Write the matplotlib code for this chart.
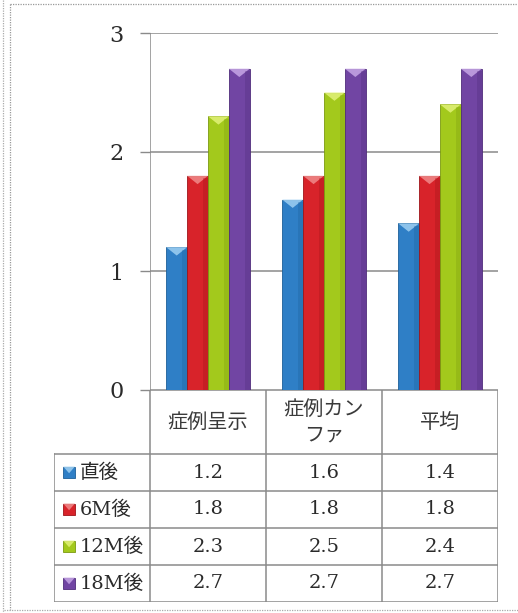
import matplotlib
matplotlib.use("Agg")
import matplotlib.pyplot as plt
from matplotlib.patches import Polygon, Rectangle
from matplotlib.lines import Line2D
import numpy as np

categories = ["症例呈示", "症例カン\nファ", "平均"]
series = ["直後", "6M後", "12M後", "18M後"]
values = [
    [1.2, 1.6, 1.4],
    [1.8, 1.8, 1.8],
    [2.3, 2.5, 2.4],
    [2.7, 2.7, 2.7],
]
yticks = [0, 1, 2, 3]

colors = ["#2f7fc6", "#d8232a", "#a3c91c", "#7145a3"]
tops = ["#9fd0f2", "#f08a8a", "#e2f27a", "#c6a6e6"]
edges = ["#1d5f99", "#9e1419", "#7a9a10", "#4f2c7a"]

jp = ["Noto Sans CJK JP", "DejaVu Sans"]
num = ["DejaVu Serif", "Noto Sans CJK JP"]
grid_c = "#8a8a8a"
txt_c = "#2a2a2a"

W, H = 518, 613
fig = plt.figure(figsize=(W / 100, H / 100), dpi=100)


def fx(px):
    return px / W


def fy(py):
    return 1 - py / H


# outer frame (scanned page border)
fig.add_artist(Line2D([fx(2.5), fx(2.5)], [fy(0), fy(613)], color="#aaaaaa", lw=0.9, ls=(0, (1, 1))))
fig.add_artist(Line2D([fx(10), fx(10)], [fy(4), fy(610)], color="#999999", lw=0.9, ls=(0, (1, 1))))
fig.add_artist(Line2D([fx(10), fx(518)], [fy(4), fy(4)], color="#999999", lw=0.9, ls=(0, (1, 1))))
fig.add_artist(Line2D([fx(4), fx(518)], [fy(610), fy(610)], color="#aaaaaa", lw=0.9, ls=(0, (1, 1))))

# chart area
ax = fig.add_axes([fx(150), fy(390), fx(498) - fx(150), fy(33) - fy(390)])
ax.set_xlim(-0.5, len(categories) - 0.5)
ax.set_ylim(0, 3)
for s in ax.spines.values():
    s.set_visible(False)
ax.set_xticks([])
ax.set_yticks(yticks)
ax.set_yticklabels([str(t) for t in yticks], family=num, fontsize=16, color=txt_c)
ax.tick_params(axis="y", length=7, color=grid_c, width=1, pad=12)
for t in yticks:
    ax.axhline(t, color=grid_c, lw=1.1, zorder=0)
ax.axvline(-0.5, color=grid_c, lw=1.1, zorder=0)

x = np.arange(len(categories))
bw = 0.18
for i in range(len(series)):
    offs = (i - 1.5) * bw
    bars = ax.bar(x + offs, values[i], width=bw, color=colors[i],
                  edgecolor=edges[i], linewidth=0.6, zorder=3)
    for b in bars:
        x0, w, h = b.get_x(), b.get_width(), b.get_height()
        # bevelled cap on top of each bar
        cap = 0.07
        ax.add_patch(Polygon([[x0, h], [x0 + w, h], [x0 + w / 2, h - cap]],
                             closed=True, color=tops[i], alpha=0.85, zorder=4, lw=0))
        ax.add_patch(Rectangle((x0 + w * 0.75, 0), w * 0.25, h - 0.02,
                               color=edges[i], alpha=0.3, zorder=4, lw=0))

# data table below the chart
lw_units = 96 / 116
hh = 64 / 37
tx = fig.add_axes([fx(54), fy(602), fx(498) - fx(54), fy(390) - fy(602)])
tx.set_xlim(-0.5 - lw_units, len(categories) - 0.5)
tx.set_ylim(hh + len(series), 0)
tx.axis("off")
left = -0.5 - lw_units
right = len(categories) - 0.5
lc = dict(color=grid_c, lw=1.1)
# horizontal rules
tx.plot([-0.5, right], [0, 0], **lc)
for r in range(len(series) + 1):
    tx.plot([left, right], [hh + r, hh + r], **lc)
# vertical rules
tx.plot([left, left], [hh, hh + len(series)], **lc)
for c in range(len(categories) + 1):
    tx.plot([c - 0.5, c - 0.5], [0, hh + len(series)], **lc)

for c, name in enumerate(categories):
    tx.text(c, hh / 2, name, ha="center", va="center", family=jp,
            fontsize=14.5, color="#3a3a3a", linespacing=1.25)

for r, name in enumerate(series):
    yc = hh + r + 0.5
    sq = 0.1
    tx.add_patch(Rectangle((left + 0.08, yc - 0.16), sq, 0.32,
                           facecolor=colors[r], edgecolor=edges[r], lw=0.6))
    tx.add_patch(Polygon([[left + 0.08, yc - 0.16], [left + 0.08 + sq, yc - 0.16],
                          [left + 0.08 + sq / 2, yc + 0.02]],
                         closed=True, color=tops[r], alpha=0.85, lw=0))
    tx.text(left + 0.22, yc, name, ha="left", va="center", family=num,
            fontsize=14, color=txt_c)
    for c in range(len(categories)):
        tx.text(c, yc, f"{values[r][c]:.1f}", ha="center", va="center",
                family=num, fontsize=14, color=txt_c)

fig.savefig("out.png", dpi=100)
